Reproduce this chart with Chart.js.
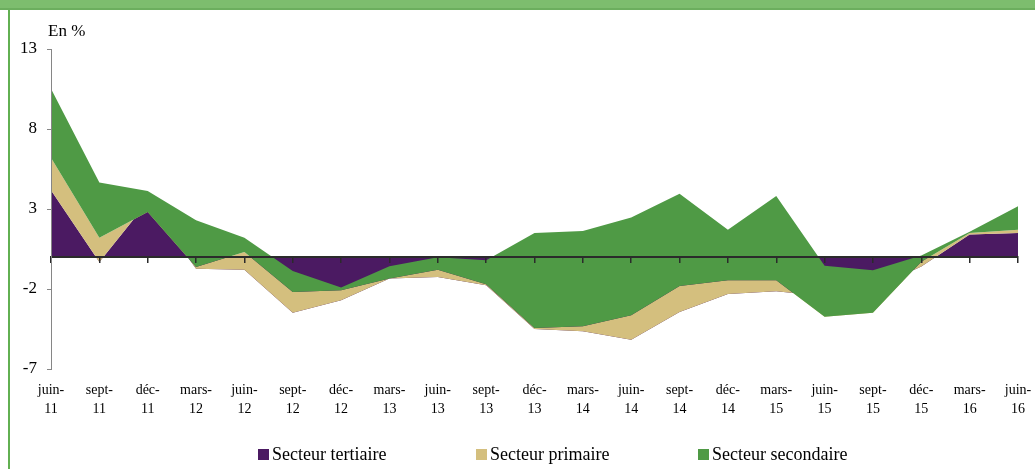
<!DOCTYPE html>
<html lang="fr">
<head>
<meta charset="utf-8">
<script src="https://cdn.jsdelivr.net/npm/chart.js@4.4.1/dist/chart.umd.min.js"></script>
<style>
  html, body { margin: 0; padding: 0; background: #fff; }
  #wrap { position: relative; width: 1035px; height: 469px; overflow: hidden;
          font-family: 'Times New Roman', 'Liberation Serif', serif; color: #000; }
  #banner { position: absolute; left: 0; top: 0; width: 1035px; height: 8px;
            background: #7dbd6e; border-bottom: 2px solid #6cae5e; }
  #leftline { position: absolute; left: 8px; top: 10px; width: 2px; height: 459px; background: #62b052; }
  #unit { position: absolute; left: 48px; top: 21px; font-size: 17px; }
  #chart { position: absolute; left: 0; top: 0; }
  .box { position: absolute; width: 11px; height: 11px; top: 449px; }
  .txt { position: absolute; top: 444px; font-size: 18px; line-height: 20px; white-space: nowrap; }
</style>
</head>
<body>
<div id="wrap">
  <canvas id="chart" width="1035" height="469"></canvas>
  <div id="banner"></div>
  <div id="leftline"></div>
  <div id="unit">En %</div>
  <div id="legend"></div>
</div>
<script>
// Données (contributions en points)
const categories = ['juin-11', 'sept-11', 'déc-11', 'mars-12', 'juin-12', 'sept-12', 'déc-12',
    'mars-13', 'juin-13', 'sept-13', 'déc-13', 'mars-14', 'juin-14', 'sept-14', 'déc-14',
    'mars-15', 'juin-15', 'sept-15', 'déc-15', 'mars-16', 'juin-16'];
const tertiaire = [4.17, -0.31, 3.45, -0.73, -0.79, -3.48, -2.71, -1.35, -1.25, -1.77, -4.5,
    -4.64, -5.17, -3.44, -2.31, -2.14, -2.45, -2.0, -0.6, 1.4, 1.5];
const primaire = [2.04, 1.52, -0.64, 0.11, 1.10, 1.29, 0.63, 0.0, 0.46, 0.07, 0.06,
    0.31, 1.53, 1.63, 0.85, 0.68, -1.28, -1.48, 0.3, 0.1, 0.21];
const secondaire = [4.31, 3.44, 1.32, 2.91, 0.90, 1.32, 0.17, 0.77, 0.77, 1.5, 5.94,
    5.96, 6.11, 5.76, 3.17, 5.27, 3.18, 2.65, 0.4, 0.08, 1.46];
const yTicks = [-7, -2, 3, 8, 13];
const seriesNames = ['Secteur tertiaire', 'Secteur primaire', 'Secteur secondaire'];

// couleurs
const colors = ['#4b1a62', '#d4bf7e', '#4f9a45'];
const serif = "'Times New Roman', 'Liberation Serif', serif";

// cumul des aires empilées (comme Excel : somme simple, signes mélangés)
const cum1 = tertiaire.slice();
const cum2 = tertiaire.map((v, i) => +(v + primaire[i]).toFixed(3));
const cum3 = cum2.map((v, i) => +(v + secondaire[i]).toFixed(3));

function areaDataset(label, data, color, fill) {
    return {
        label: label,
        data: data,
        fill: fill,
        backgroundColor: color,
        borderColor: 'rgba(0,0,0,0)',
        borderWidth: 0,
        pointRadius: 0,
        pointHoverRadius: 0,
        tension: 0,
        xAxisID: 'x'
    };
}

const ctx = document.getElementById('chart').getContext('2d');
new Chart(ctx, {
    type: 'line',
    data: {
        labels: categories,
        datasets: [
            // dessiné en dernier = au-dessus
            areaDataset(seriesNames[2], cum3, colors[2], '+1'),
            areaDataset(seriesNames[1], cum2, colors[1], '+1'),
            areaDataset(seriesNames[0], cum1, colors[0], 'origin')
        ]
    },
    options: {
        responsive: false,
        animation: false,
        events: [],
        layout: { padding: { top: 49, right: 17, bottom: 0, left: 0 } },
        plugins: {
            legend: { display: false },
            tooltip: { enabled: false },
            title: { display: false }
        },
        scales: {
            x: {
                type: 'category',
                position: 'bottom',
                offset: false,
                grid: { display: false, drawTicks: false },
                border: { display: false },
                ticks: {
                    autoSkip: false,
                    maxRotation: 0,
                    minRotation: 0,
                    padding: 12,
                    color: '#000',
                    font: { family: serif, size: 14, lineHeight: 1.36 },
                    callback: function (value) {
                        const l = this.getLabelForValue(value);
                        const k = l.indexOf('-');
                        return [l.slice(0, k + 1), l.slice(k + 1)];
                    }
                },
                afterFit: (scale) => {
                    scale.height = 100;
                    scale.paddingLeft = 0;
                    scale.paddingRight = 0;
                }
            },
            x0: {
                type: 'category',
                position: { y: 0 },
                offset: false,
                grid: { display: true, drawOnChartArea: false, drawTicks: true, tickLength: 5,
                        color: '#2b2b2b', lineWidth: 1.5, z: 1 },
                border: { display: true, color: '#2b2b2b', width: 2, z: 1 },
                ticks: { display: false }
            },
            y: {
                position: 'left',
                min: -7,
                max: 13,
                grid: { display: true, drawOnChartArea: false, drawTicks: true, tickLength: 4,
                        color: '#868686', z: 1 },
                border: { display: true, color: '#868686', width: 1, z: 1 },
                ticks: {
                    padding: 10,
                    color: '#000',
                    font: { family: serif, size: 17 }
                },
                afterBuildTicks: (scale) => { scale.ticks = yTicks.map(v => ({ value: v })); },
                afterFit: (scale) => { scale.width = 51; }
            }
        }
    }
});

// légende
const legendLeft = [258, 476, 698];
const legend = document.getElementById('legend');
seriesNames.forEach((name, i) => {
    const b = document.createElement('div');
    b.className = 'box';
    b.style.left = legendLeft[i] + 'px';
    b.style.background = colors[i];
    legend.appendChild(b);
    const t = document.createElement('div');
    t.className = 'txt';
    t.style.left = (legendLeft[i] + 14) + 'px';
    t.textContent = name;
    legend.appendChild(t);
});
</script>
</body>
</html>
